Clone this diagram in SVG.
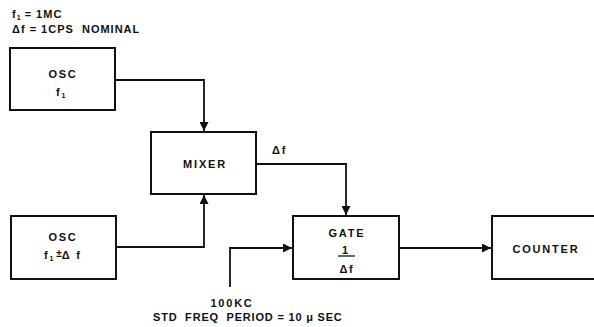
<svg xmlns="http://www.w3.org/2000/svg" width="594" height="327" viewBox="0 0 594 327">
<defs>
<marker id="ah" viewBox="0 0 10 10" refX="10" refY="5" markerWidth="10" markerHeight="9" markerUnits="userSpaceOnUse" orient="auto"><path d="M0,0 L10,5 L0,10 Z" fill="#111"/></marker>
</defs>
<style>
.box{fill:#fff;stroke:#111;stroke-width:2}
.ln{fill:none;stroke:#111;stroke-width:1.8}
text{font-family:"Liberation Sans",Arial,sans-serif;font-weight:bold;font-size:11px;fill:#111;letter-spacing:1.8px;white-space:pre}
.c{text-anchor:middle}
.s{font-size:7px;letter-spacing:0}
.n{letter-spacing:1px}
.t{letter-spacing:0.8px}
</style>
<rect width="594" height="327" fill="#fff"/>
<g id="notes">
<text class="n" x="12" y="18">f<tspan class="s" dy="2">1</tspan><tspan dy="-2"> = 1MC</tspan></text>
<text class="n" x="12" y="33">Δf = 1CPS  NOMINAL</text>
</g>
<g id="connectors">
<path class="ln" d="M115,80 H204 V131" marker-end="url(#ah)"/>
<path class="ln" d="M116,247 H204 V195" marker-end="url(#ah)"/>
<path class="ln" d="M256,164 H346 V215" marker-end="url(#ah)"/>
<path class="ln" d="M230,287 V248 H292" marker-end="url(#ah)"/>
<path class="ln" d="M399,248 H491" marker-end="url(#ah)"/>
<text x="272" y="154">Δf</text>
</g>
<g id="osc1">
<rect class="box" x="10" y="48" width="105" height="62"/>
<text class="c" x="63" y="78">OSC</text>
<text x="56" y="96">f<tspan class="s" dy="2">1</tspan></text>
</g>
<g id="mixer">
<rect class="box" x="151" y="132" width="105" height="62"/>
<text class="c" x="205" y="168">MIXER</text>
</g>
<g id="osc2">
<rect class="box" x="11" y="216" width="105" height="63"/>
<text class="c" x="63" y="241">OSC</text>
<text x="44" y="259">f<tspan class="s" dy="2">1</tspan><tspan dy="-4" font-size="10" letter-spacing="0"> ±</tspan><tspan dy="2">Δ f</tspan></text>
</g>
<g id="gate">
<rect class="box" x="293" y="216" width="106" height="63"/>
<text class="c" x="347" y="237">GATE</text>
<text class="c" x="346" y="254">1</text>
<line x1="338" y1="256" x2="355" y2="256" stroke="#111" stroke-width="1.3"/>
<text class="c" x="347" y="273">Δf</text>
</g>
<g id="counter">
<rect class="box" x="492" y="216" width="104" height="63"/>
<text class="c" x="546" y="253">COUNTER</text>
</g>
<g id="std">
<text class="c" x="232" y="307">100KC</text>
<text class="t" x="153" y="321">STD  FREQ  PERIOD = 10 μ SEC</text>
</g>
</svg>
